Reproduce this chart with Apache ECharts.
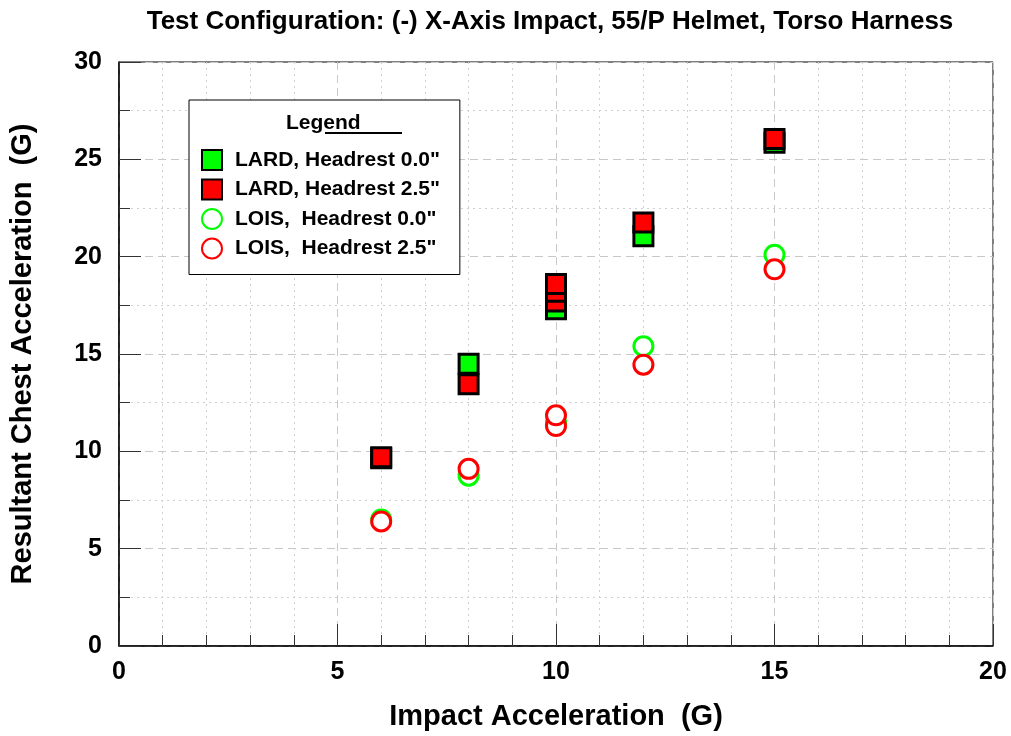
<!DOCTYPE html>
<html>
<head>
<meta charset="utf-8">
<script src="https://cdn.jsdelivr.net/npm/echarts@6/dist/echarts.min.js"></script>
<style>
  html, body { margin: 0; padding: 0; background: #fff; }
  #chart { width: 1011px; height: 736px; }
</style>
</head>
<body>
<div id="chart"></div>
<script>
// data
const lardHead00 = [[6, 9.65], [8, 14.5], [10, 17.3], [10, 17.8], [12, 21.05], [15, 25.85]]
const lardHead25 = [[6, 9.7], [8, 13.45], [10, 17.7], [10, 18.2], [10, 18.6], [12, 21.75], [15, 26.05]]
const loisHead00 = [[6, 6.5], [8, 8.75], [10, 11.5], [12, 15.4], [15, 20.1]]
const loisHead25 = [[6, 6.4], [8, 9.1], [10, 11.3], [10, 11.85], [12, 14.45], [15, 19.35]]

const seriesNames = ['LARD, Headrest 0.0"', 'LARD, Headrest 2.5"', 'LOIS,  Headrest 0.0"', 'LOIS,  Headrest 2.5"']

const FONT = 'Liberation Sans'
const GREEN = '#00ff00'
const RED = '#ff0000'

const chart = echarts.init(document.getElementById('chart'))

const squareSeries = (name, data, color) => ({
  name,
  type: 'scatter',
  data,
  symbol: 'rect',
  symbolSize: 19,
  itemStyle: { color, borderColor: '#000', borderWidth: 3, opacity: 1 }
})

const circleSeries = (name, data, color) => ({
  name,
  type: 'scatter',
  data,
  symbol: 'circle',
  symbolSize: 19,
  itemStyle: { color: '#fff', borderColor: color, borderWidth: 3, opacity: 1 }
})

const option = {
  animation: false,
  backgroundColor: '#fff',
  title: {
    text: 'Test Configuration: (-) X-Axis Impact, 55/P Helmet, Torso Harness',
    left: 545,
    textAlign: 'center',
    top: 4,
    textStyle: { fontFamily: FONT, fontSize: 26, fontWeight: 'bold', color: '#000' }
  },
  grid: {
    left: 117, right: 18, top: 62, bottom: 88,
    show: true, borderColor: '#000', borderWidth: 1, backgroundColor: '#fff'
  },
  legend: {
    orient: 'vertical',
    left: 189,
    top: 100,
    padding: [49, 20, 15, 12],
    itemWidth: 20,
    itemHeight: 20,
    itemGap: 7.5,
    borderColor: '#000',
    borderWidth: 1,
    backgroundColor: '#fff',
    data: seriesNames,
    textStyle: { fontFamily: FONT, fontSize: 21, lineHeight: 20, fontWeight: 'bold', color: '#000', padding: [0, 0, 0, 8] }
  },
  graphic: [
    { type: 'text', left: 286, top: 113, z: 100,
      style: { text: 'Legend', fontFamily: FONT, fontSize: 21, fontWeight: 'bold', fill: '#000' } },
    { type: 'line', z: 100, shape: { x1: 325, y1: 133, x2: 402, y2: 133 },
      style: { stroke: '#000', lineWidth: 2 } }
  ],
  xAxis: {
    type: 'value',
    min: 0, max: 20, interval: 5,
    name: 'Impact Acceleration  (G)',
    nameLocation: 'middle',
    nameGap: 56,
    nameTextStyle: { fontFamily: FONT, fontSize: 29, fontWeight: 'bold', color: '#000' },
    axisLine: { show: true, onZero: false, lineStyle: { color: '#000', width: 1.5 } },
    axisTick: { show: true, inside: true, length: 22, lineStyle: { color: '#333', width: 1 } },
    minorTick: { show: true, splitNumber: 5, length: 11, lineStyle: { color: '#333', width: 1 } },
    axisLabel: { fontFamily: FONT, fontSize: 25, fontWeight: 'bold', color: '#000', margin: 14 },
    splitLine: { show: true, lineStyle: { color: '#c8c8c8', type: [8, 5], width: 1 } },
    minorSplitLine: { show: true, lineStyle: { color: '#d0d0d0', type: [2, 4], width: 1 } }
  },
  yAxis: {
    type: 'value',
    min: 0, max: 30, interval: 5,
    name: 'Resultant Chest Acceleration  (G)',
    nameLocation: 'middle',
    nameGap: 82,
    nameTextStyle: { fontFamily: FONT, fontSize: 29, fontWeight: 'bold', color: '#000' },
    axisLine: { show: true, onZero: false, lineStyle: { color: '#000', width: 1.5 } },
    axisTick: { show: true, inside: true, length: 22, lineStyle: { color: '#333', width: 1 } },
    minorTick: { show: true, splitNumber: 2, length: 11, lineStyle: { color: '#333', width: 1 } },
    axisLabel: { fontFamily: FONT, fontSize: 25, fontWeight: 'bold', color: '#000', margin: 17 },
    splitLine: { show: true, lineStyle: { color: '#c8c8c8', type: [8, 5], width: 1 } },
    minorSplitLine: { show: true, lineStyle: { color: '#d0d0d0', type: [2, 4], width: 1 } }
  },
  series: [
    squareSeries(seriesNames[0], lardHead00, GREEN),
    squareSeries(seriesNames[1], lardHead25, RED),
    circleSeries(seriesNames[2], loisHead00, GREEN),
    circleSeries(seriesNames[3], loisHead25, RED)
  ]
}

chart.setOption(option)
</script>
</body>
</html>
